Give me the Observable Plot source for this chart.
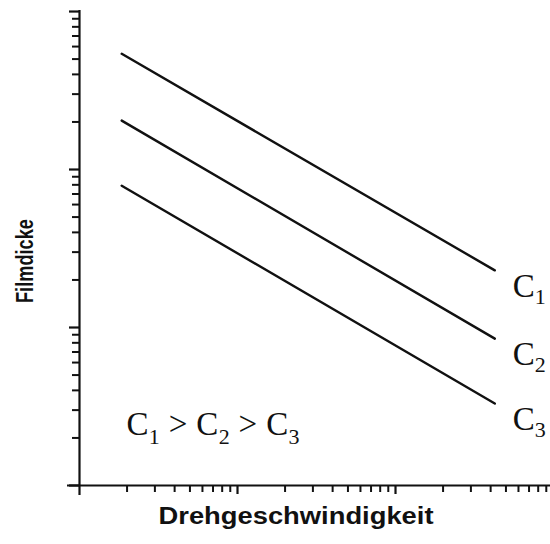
<!DOCTYPE html>
<html>
<head>
<meta charset="utf-8">
<script src="https://cdn.jsdelivr.net/npm/d3@7"></script>
<script src="https://cdn.jsdelivr.net/npm/@observablehq/plot@0.6"></script>
<style>
  html, body { margin: 0; padding: 0; background: #fff; }
  #chart svg { display: block; }
</style>
</head>
<body>
<div id="chart"></div>
<script>
// Rotation speed (x) at the two ends of each line
const speed = [1.85, 425];
// Film thickness for each concentration
const c1 = [540, 23];
const c2 = [204, 8.5];
const c3 = [79, 3.3];
const seriesNames = ["C1", "C2", "C3"];
const seriesValues = [c1, c2, c3];

// Tick values (no tick labels on the original)
const xMajorTicks = [10, 100];
const xMinorTicks = [2, 3, 4, 5, 6, 7, 8, 9, 20, 30, 40, 50, 60, 70, 80, 90, 200, 300, 400, 500, 600, 700, 800, 900];
const yMajorTicks = [1, 10, 100, 1000];
const yMinorTicks = [2, 3, 4, 5, 6, 7, 8, 9, 20, 30, 40, 50, 60, 70, 80, 90, 200, 300, 400, 500, 600, 700, 800, 900];

const noteText = "C1 > C2 > C3";
const xLabel = "Drehgeschwindigkeit";
const yLabel = "Filmdicke";

const rows = seriesNames.flatMap((s, i) => speed.map((x, j) => ({series: s, x, y: seriesValues[i][j]})));

const noLabel = {tickFormat: () => "", label: null, stroke: "#111"};

const chart = Plot.plot({
  width: 550,
  height: 544,
  marginLeft: 79,
  marginRight: 0,
  marginTop: 10,
  marginBottom: 59,
  style: {background: "#fff", color: "#111"},
  x: {type: "log", domain: [1, 957]},
  y: {type: "log", domain: [1, 1015]},
  marks: [
    Plot.axisX(xMinorTicks, {...noLabel, tickSize: 7, strokeWidth: 2}),
    Plot.axisX(xMajorTicks, {...noLabel, tickSize: 9, strokeWidth: 2.2}),
    Plot.axisY(yMinorTicks, {...noLabel, tickSize: 7, strokeWidth: 2}),
    Plot.axisY(yMajorTicks, {...noLabel, tickSize: 10, strokeWidth: 2.2}),
    Plot.ruleX([1], {stroke: "#111", strokeWidth: 2.2, insetBottom: -10}),
    Plot.ruleY([1], {stroke: "#111", strokeWidth: 2.2, insetLeft: -12}),
    Plot.line(rows, {x: "x", y: "y", z: "series", stroke: "#111", strokeWidth: 2.4}),
    Plot.text(rows, Plot.selectLast({
      x: "x", y: "y", z: "series", text: "series",
      dx: 18, dy: 16, textAnchor: "start",
      fontFamily: "Liberation Serif", fontSize: 33, fill: "#111"
    })),
    Plot.text([noteText], {
      text: d => d, frameAnchor: "bottom-left", dx: 47, dy: -51, textAnchor: "start",
      fontFamily: "Liberation Serif", fontSize: 33, fill: "#111"
    }),
    Plot.text([yLabel], {
      text: d => d, frameAnchor: "left", textAnchor: "middle", rotate: -90, dx: -54, dy: 13,
      fontFamily: "Liberation Sans", fontWeight: "bold", fontSize: 24, fill: "#111"
    }),
    Plot.text([xLabel], {
      text: d => d, frameAnchor: "bottom", textAnchor: "middle", dx: -19, dy: 38,
      fontFamily: "Liberation Sans", fontWeight: "bold", fontSize: 23, fill: "#111"
    })
  ]
});

document.getElementById("chart").appendChild(chart);

const svgns = "http://www.w3.org/2000/svg";
function subscriptify(node, fs, shift) {
  const s = node.textContent;
  node.textContent = "";
  const parts = s.split(/(\d)/);
  let down = false;
  parts.forEach((p, i) => {
    if (!p) return;
    const ts = document.createElementNS(svgns, "tspan");
    ts.textContent = p;
    if (i % 2 === 1) {
      ts.setAttribute("font-size", fs);
      ts.setAttribute("dy", shift);
      down = true;
    } else if (down) {
      ts.setAttribute("dy", -shift);
      down = false;
    }
    node.appendChild(ts);
  });
}

d3.select(chart).selectAll("text").each(function() {
  const t = this.textContent;
  if (/^C\d$/.test(t)) subscriptify(this, 22, 7);
  else if (t === noteText) { subscriptify(this, 22, 9); this.setAttribute("textLength", 173); this.setAttribute("lengthAdjust", "spacing"); }
  else if (t === xLabel) { this.setAttribute("textLength", 275); this.setAttribute("lengthAdjust", "spacingAndGlyphs"); }
  else if (t === yLabel) { this.setAttribute("textLength", 84); this.setAttribute("lengthAdjust", "spacingAndGlyphs"); }
});
</script>
</body>
</html>
